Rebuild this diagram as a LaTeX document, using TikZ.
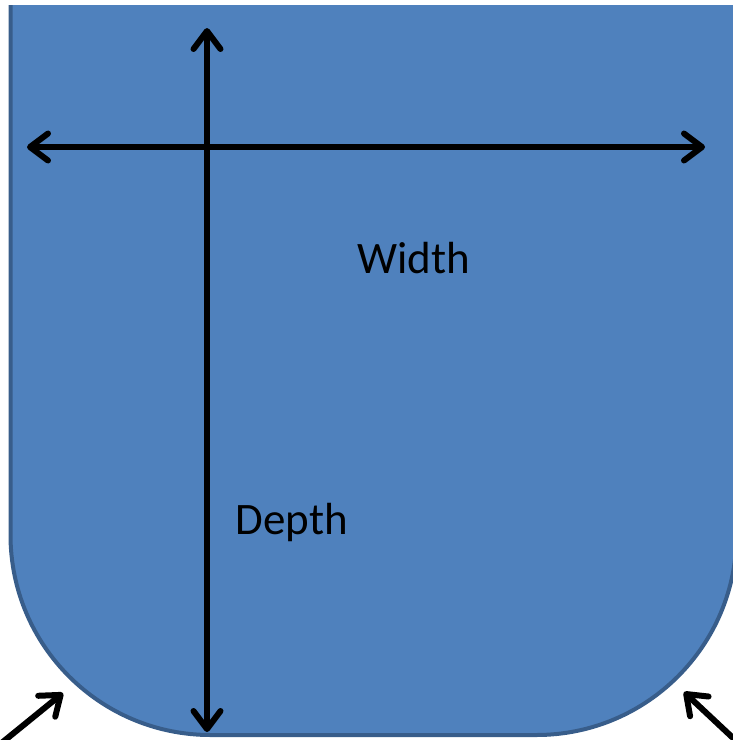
\documentclass[tikz,border=0pt]{standalone}
\usepackage{fontspec}
\setmainfont{Carlito}
\usetikzlibrary{arrows.meta}
\definecolor{shapefill}{HTML}{4F81BD}
\definecolor{shapeedge}{HTML}{385D8A}
\tikzset{
  barb/.tip={Straight Barb[length=18pt,width=27pt,round]},
  dimarrow/.style={line width=6pt, black, barb-barb},
  ptarrow/.style={line width=6pt, black, -barb},
  label/.style={font=\fontsize{45}{54}\selectfont, anchor=base, inner sep=0pt}
}
\begin{document}
\begin{tikzpicture}[x=1pt,y=-1pt]
\useasboundingbox (0,0) rectangle (733,740);
\begin{scope}
  \clip (0,5) rectangle (733,740);
  \path[fill=shapefill, draw=shapeedge, line width=4pt]
    (10.5,-20) -- (10.5,535)
    arc[start angle=180, end angle=90, x radius=200, y radius=200]
    -- (536.5,735)
    arc[start angle=90, end angle=0, x radius=200, y radius=200]
    -- (736.5,-20) -- cycle;
\end{scope}
\begin{scope}
  \clip (0,0) rectangle (733,740);
  \coordinate (vt) at (207,28);
  \coordinate (vb) at (207,732);
  \coordinate (hl) at (27,147);
  \coordinate (hr) at (705,147);
  \coordinate (blt) at (-12,754);
  \coordinate (blh) at (63,693);
  \coordinate (brt) at (748,752);
  \coordinate (brh) at (684,692);
  \draw[dimarrow] (vt) -- (vb);
  \draw[dimarrow] (hl) -- (hr);
  \draw[ptarrow] (blt) -- (blh);
  \draw[ptarrow] (brt) -- (brh);
\end{scope}
\node[label] (width) at (414,273) {Width};
\node[label] (depth) at (292,534) {Depth};
\end{tikzpicture}
\end{document}
